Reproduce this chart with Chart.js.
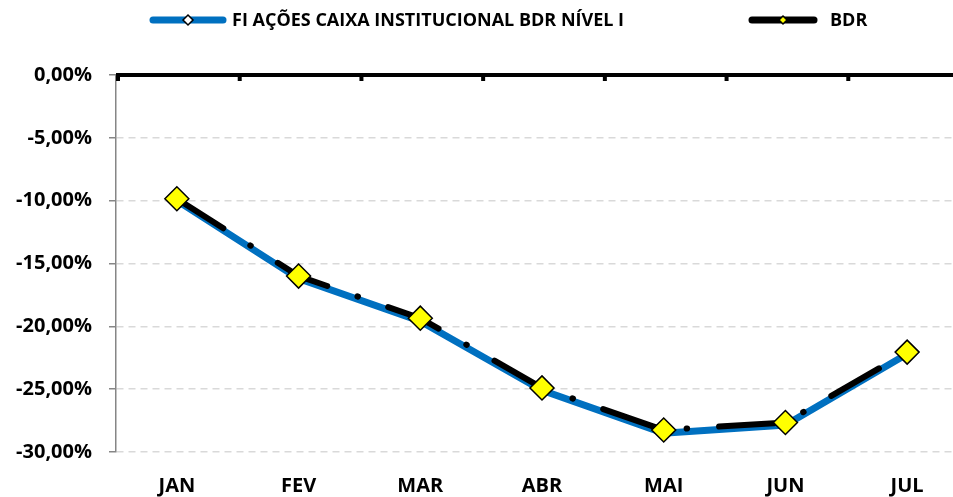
<!DOCTYPE html>
<html>
<head>
<meta charset="utf-8">
<script src="https://cdn.jsdelivr.net/npm/chart.js@4.4.0/dist/chart.umd.min.js"></script>
<style>
  html, body { margin: 0; padding: 0; background: #fff; overflow: hidden; }
  #grafico { display: block; }
</style>
</head>
<body>
<canvas id="grafico" width="968" height="497"></canvas>
<script>
// dados (rentabilidade acumulada, %)
const meses = ['JAN', 'FEV', 'MAR', 'ABR', 'MAI', 'JUN', 'JUL'];
const fundo = [-10.0, -16.2, -19.6, -25.1, -28.5, -27.85, -22.2];
const bdr = [-9.85, -16.0, -19.35, -24.9, -28.25, -27.65, -22.05];
const ticksY = [0, -5, -10, -15, -20, -25, -30];
const nomes = ['FI AÇÕES CAIXA INSTITUCIONAL BDR NÍVEL I', 'BDR'];

const fonte = 'Open Sans';

function diamante(ctx, x, y, r, cor) {
  ctx.beginPath();
  ctx.moveTo(x - r, y);
  ctx.lineTo(x, y - r);
  ctx.lineTo(x + r, y);
  ctx.lineTo(x, y + r);
  ctx.closePath();
  ctx.fillStyle = cor;
  ctx.fill();
  ctx.lineWidth = 1.5;
  ctx.strokeStyle = '#000';
  ctx.stroke();
}

// linha do zero (eixo de categorias no topo) com marcas para baixo
const eixoTopo = {
  id: 'eixoTopo',
  afterDraw(chart) {
    const ctx = chart.ctx;
    const x = chart.scales.x, y = chart.scales.y;
    const y0 = y.getPixelForValue(0);
    const passo = x.getPixelForValue(1) - x.getPixelForValue(0);
    ctx.save();
    ctx.fillStyle = '#000';
    ctx.fillRect(chart.chartArea.left, y0 - 2, chart.width - chart.chartArea.left, 4);
    for (let i = 0; i <= meses.length; i++) {
      const px = x.getPixelForValue(i) - passo / 2;
      ctx.fillRect(px, y0, 4, 6);
    }
    ctx.restore();
  }
};

// legenda no topo: linha + marcador + texto
const legenda = {
  id: 'legenda',
  afterDraw(chart) {
    const ctx = chart.ctx;
    const itens = [
      { ds: 1, x0: 153, x1: 223, tx: 232, r: 5, larg: 7 },
      { ds: 0, x0: 752, x1: 814, tx: 830, r: 4, larg: 7 }
    ];
    ctx.save();
    itens.forEach(it => {
      const d = chart.data.datasets[it.ds];
      const ly = 20;
      ctx.beginPath();
      ctx.moveTo(it.x0, ly);
      ctx.lineTo(it.x1, ly);
      ctx.lineWidth = it.larg;
      ctx.lineCap = 'round';
      ctx.strokeStyle = d.borderColor;
      ctx.stroke();
      diamante(ctx, (it.x0 + it.x1) / 2, ly, it.r, d.pointBackgroundColor);
      ctx.fillStyle = '#000';
      ctx.font = 'bold 18px "' + fonte + '"';
      ctx.textBaseline = 'middle';
      ctx.textAlign = 'left';
      ctx.fillText(d.label, it.tx, ly + 1);
    });
    ctx.restore();
  }
};

new Chart(document.getElementById('grafico'), {
  type: 'line',
  data: {
    labels: meses,
    datasets: [
      {
        label: nomes[1],
        data: bdr,
        borderColor: '#000',
        borderWidth: 6,
        borderDash: [55, 32, 0.5, 32],
        borderCapStyle: 'round',
        pointStyle: 'rectRot',
        pointRadius: 12,
        pointBackgroundColor: '#ffff00',
        pointBorderColor: '#000',
        pointBorderWidth: 1.5,
        tension: 0,
        order: 0
      },
      {
        label: nomes[0],
        data: fundo,
        borderColor: '#0070c0',
        borderWidth: 7,
        pointStyle: 'rectRot',
        pointRadius: 5,
        pointBackgroundColor: '#ffffff',
        pointBorderColor: '#000',
        pointBorderWidth: 1.5,
        tension: 0,
        order: 1
      }
    ]
  },
  options: {
    responsive: false,
    animation: false,
    layout: { autoPadding: false, padding: { top: 75, bottom: 0, left: 0, right: 0 } },
    plugins: {
      legend: { display: false },
      tooltip: { enabled: false }
    },
    scales: {
      x: {
        offset: true,
        afterFit(s) { s.height = 45; },
        grid: { display: false, drawTicks: false, tickLength: 0 },
        border: { display: false },
        ticks: {
          padding: 22,
          color: '#000',
          maxRotation: 0,
          autoSkip: false,
          font: { family: fonte, weight: 'bold', size: 20 }
        }
      },
      y: {
        min: -30,
        max: 0,
        afterFit(s) { s.width = 116; },
        afterBuildTicks(s) { s.ticks = ticksY.map(v => ({ value: v })); },
        ticks: {
          padding: 17,
          color: '#000',
          font: { family: fonte, weight: 'bold', size: 20 },
          callback: v => v.toFixed(2).replace('.', ',') + '%'
        },
        grid: {
          color: c => (c.tick && c.tick.value === 0) ? 'rgba(0,0,0,0)' : '#d9d9d9',
          lineWidth: 1.5,
          tickLength: 7,
          tickColor: '#868686',
          tickWidth: 1.5
        },
        border: { display: true, color: '#868686', width: 1.5, dash: [7, 5] }
      }
    }
  },
  plugins: [eixoTopo, legenda]
});
</script>
</body>
</html>
